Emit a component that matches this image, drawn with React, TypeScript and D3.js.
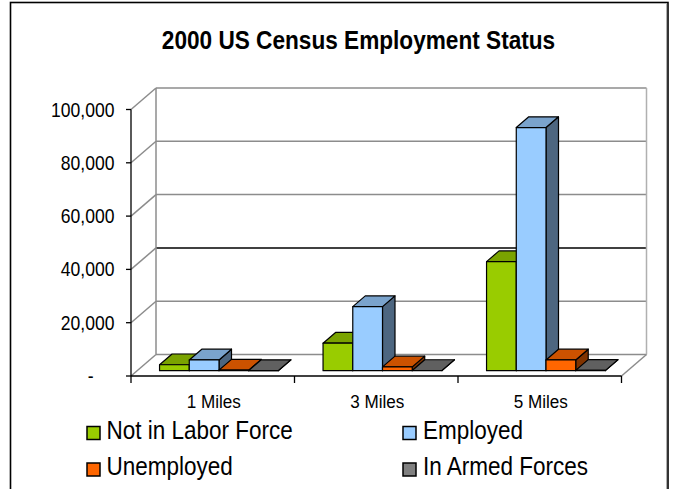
import React from "react";
import * as d3 from "d3";

const categories = ["1 Miles", "3 Miles", "5 Miles"];
const seriesNames = ["Not in Labor Force", "Employed", "Unemployed", "In Armed Forces"];
const notInLaborForce = [2200, 10300, 40900];
const employed = [4000, 24000, 91200];
const unemployed = [200, 1400, 4000];
const armedForces = [30, 50, 100];
const yTicks = [0, 20000, 40000, 60000, 80000, 100000];
const yTickLabels = ["-", "20,000", "40,000", "60,000", "80,000", "100,000"];
const seriesColors = ["#99CC00", "#99CCFF", "#FF6600", "#808080"];

const seriesValues = [notInLaborForce, employed, unemployed, armedForces];

const FONT = "'Liberation Sans', Arial, sans-serif";
const SX = 0.9;

function SText({ x, y, anchor = "start", size, weight = "normal", sx = SX, children }: any) {
  return (
    <text
      transform={`translate(${x},${y}) scale(${sx},1)`}
      textAnchor={anchor}
      fontFamily={FONT}
      fontSize={size}
      fontWeight={weight}
      fill="#000"
    >
      {children}
    </text>
  );
}

export default function App() {
  const W = 673, H = 489;
  const left = 131, right = 621.5;
  const bottom = 376, top = 109.5;
  const DX = 25, DY = -21.5;
  const d0 = 0.25, d1 = 0.75;

  const x = d3.scaleBand<string>().domain(categories).range([left, right]).padding(0);
  const y = d3.scaleLinear().domain([0, 100000]).range([bottom, top]);
  const bw = x.bandwidth() / 5.5;

  const shade = (c: string, k: number) => {
    const col = d3.rgb(c);
    return d3.rgb(col.r * k, col.g * k, col.b * k).formatHex();
  };

  const gray = "#8c8c8c";
  const bars: any[] = [];
  categories.forEach((cat, ci) => {
    seriesValues.forEach((vals, si) => {
      const v = vals[ci];
      const bx = (x(cat) as number) + 0.75 * bw + si * bw;
      const x0 = bx + DX * d0;
      const x1 = x0 + bw;
      const yb = y(0) + DY * d0;
      const yt = y(v) + DY * d0;
      const ddx = DX * (d1 - d0);
      const ddy = DY * (d1 - d0);
      const c = seriesColors[si];
      const pts = (a: number[][]) => a.map((p) => p.join(",")).join(" ");
      bars.push(
        <g key={`${ci}-${si}`} stroke="#000" strokeWidth={1.2} strokeLinejoin="round">
          <polygon
            points={pts([[x1, yt], [x1 + ddx, yt + ddy], [x1 + ddx, yb + ddy], [x1, yb]])}
            fill={shade(c, si === 3 ? 0.75 : 0.5)}
          />
          <polygon
            points={pts([[x0, yt], [x1, yt], [x1 + ddx, yt + ddy], [x0 + ddx, yt + ddy]])}
            fill={shade(c, si === 3 ? 0.75 : 0.8)}
          />
          <rect x={x0} y={yt} width={bw} height={Math.max(0, yb - yt)} fill={c} />
        </g>
      );
    });
  });

  const catEdges = [...categories.map((c) => x(c) as number), right];

  return (
    <svg width={W} height={H} style={{ position: "absolute", left: 0, top: 0 }}>
      <rect x={0} y={0} width={W} height={H} fill="#fff" />
      <rect x={10.5} y={2.5} width={657.5} height={520} fill="#fff" stroke="#000" strokeWidth={1.6} />
      <line x1={666.5} y1={3} x2={666.5} y2={489} stroke="#b0b0b0" strokeWidth={1} />

      <SText x={358.5} y={49} anchor="middle" size={26} weight="bold" sx={0.87}>
        2000 US Census Employment Status
      </SText>

      {/* back wall gridlines */}
      {yTicks.map((t, i) => (
        <line
          key={`bg${i}`}
          x1={left + DX}
          x2={right + DX}
          y1={y(t) + DY}
          y2={y(t) + DY}
          stroke={t === 40000 ? "#000" : gray}
          strokeWidth={1.5}
        />
      ))}
      {/* side wall diagonals */}
      {yTicks.map((t, i) => (
        <line
          key={`sd${i}`}
          x1={left}
          y1={y(t)}
          x2={left + DX}
          y2={y(t) + DY}
          stroke={gray}
          strokeWidth={1.5}
        />
      ))}
      <line x1={left + DX} x2={left + DX} y1={y(100000) + DY} y2={y(0) + DY} stroke={gray} strokeWidth={1.5} />
      <line x1={right + DX} x2={right + DX} y1={y(100000) + DY} y2={y(0) + DY} stroke="#b0b0b0" strokeWidth={1.5} />
      <line x1={right} y1={bottom} x2={right + DX} y2={bottom + DY} stroke={gray} strokeWidth={1.5} />

      {bars}

      {/* axes */}
      <line x1={left} x2={right} y1={bottom} y2={bottom} stroke="#000" strokeWidth={1.3} />
      <line x1={left} x2={left} y1={top} y2={bottom} stroke="#000" strokeWidth={1.3} />
      {yTicks.map((t, i) => (
        <line key={`yt${i}`} x1={left - 5} x2={left} y1={y(t)} y2={y(t)} stroke="#000" strokeWidth={1.3} />
      ))}
      {catEdges.map((e, i) => (
        <line key={`xt${i}`} x1={e} x2={e} y1={bottom} y2={bottom + 7} stroke="#000" strokeWidth={1.3} />
      ))}

      {yTicks.map((t, i) =>
        t === 0 ? (
          <SText key={`yl${i}`} x={93.5} y={y(t) + 7} anchor="end" size={19.5}>
            {yTickLabels[i]}
          </SText>
        ) : (
          <SText key={`yl${i}`} x={114.5} y={y(t) + 7} anchor="end" size={19.5}>
            {yTickLabels[i]}
          </SText>
        )
      )}

      {categories.map((c) => (
        <SText key={c} x={(x(c) as number) + x.bandwidth() / 2 + 1} y={408} anchor="middle" size={19}>
          {c}
        </SText>
      ))}

      {/* legend */}
      {seriesNames.map((n, i) => {
        const col = i % 2;
        const row = Math.floor(i / 2);
        const mx = col === 0 ? 87 : 403;
        const my = row === 0 ? 426.5 : 463;
        const tx = col === 0 ? 106.5 : 423;
        const ty = row === 0 ? 438.5 : 474.5;
        return (
          <g key={n}>
            <rect x={mx} y={my} width={13} height={13} fill={seriesColors[i]} stroke="#000" strokeWidth={1.5} />
            <SText x={tx} y={ty} size={25}>
              {n}
            </SText>
          </g>
        );
      })}
    </svg>
  );
}
